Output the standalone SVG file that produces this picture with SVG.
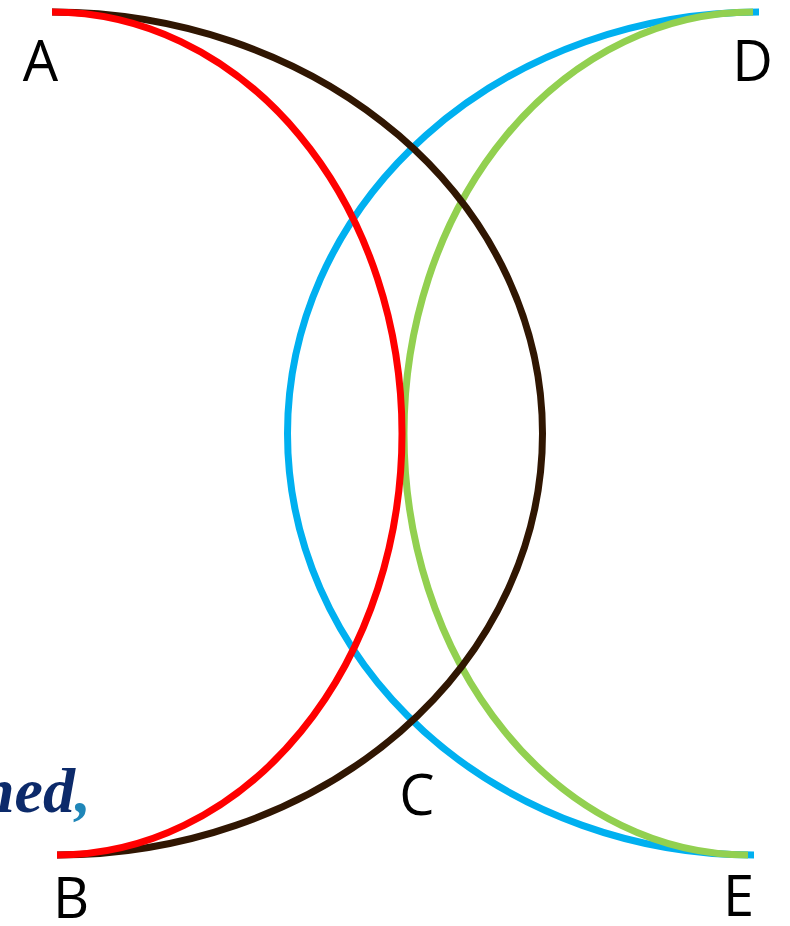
<svg xmlns="http://www.w3.org/2000/svg" width="790" height="926" viewBox="0 0 790 926">
<style>
.arc{fill:none;stroke-width:7;stroke-linecap:butt}
.lbl{font-family:"Open Sans","Liberation Sans",sans-serif;font-size:56px;fill:#000;text-anchor:middle}
.frag{font-family:"Liberation Serif","Times New Roman",serif;font-size:64px;font-weight:bold;font-style:italic}
</style>
<rect width="790" height="926" fill="#fff"/>
<g id="connectors">
<path id="arc-blue" class="arc" stroke="#00B0F0" d="M759,12 A472,421.5 0 0 0 287.5,433.5 A466.5,421.5 0 0 0 754,855"/>
<path id="arc-green" class="arc" stroke="#92D050" d="M753,12 A349,421.5 0 0 0 404,433.5 A344,421.5 0 0 0 748,855"/>
<path id="arc-black" class="arc" stroke="#301602" d="M52,12 A490.5,421.5 0 0 1 542.5,433.5 A485.5,421.5 0 0 1 57,855"/>
<path id="arc-red" class="arc" stroke="#FF0000" d="M52,12 A350,421.5 0 0 1 402,433.5 A345,421.5 0 0 1 57,855"/>
</g>
<g id="node-A"><text class="lbl" x="40.5" y="81">A</text></g>
<g id="node-B"><text class="lbl" x="71" y="918">B</text></g>
<g id="node-C"><text class="lbl" x="417" y="815">C</text></g>
<g id="node-D"><text class="lbl" x="752.5" y="81">D</text></g>
<g id="node-E"><text class="lbl" x="738.5" y="916">E</text></g>
<g id="fragment"><text class="frag" x="91" y="812" text-anchor="end"><tspan fill="#0C2A6A">ned</tspan><tspan fill="#1F86B8">,</tspan></text></g>
</svg>
